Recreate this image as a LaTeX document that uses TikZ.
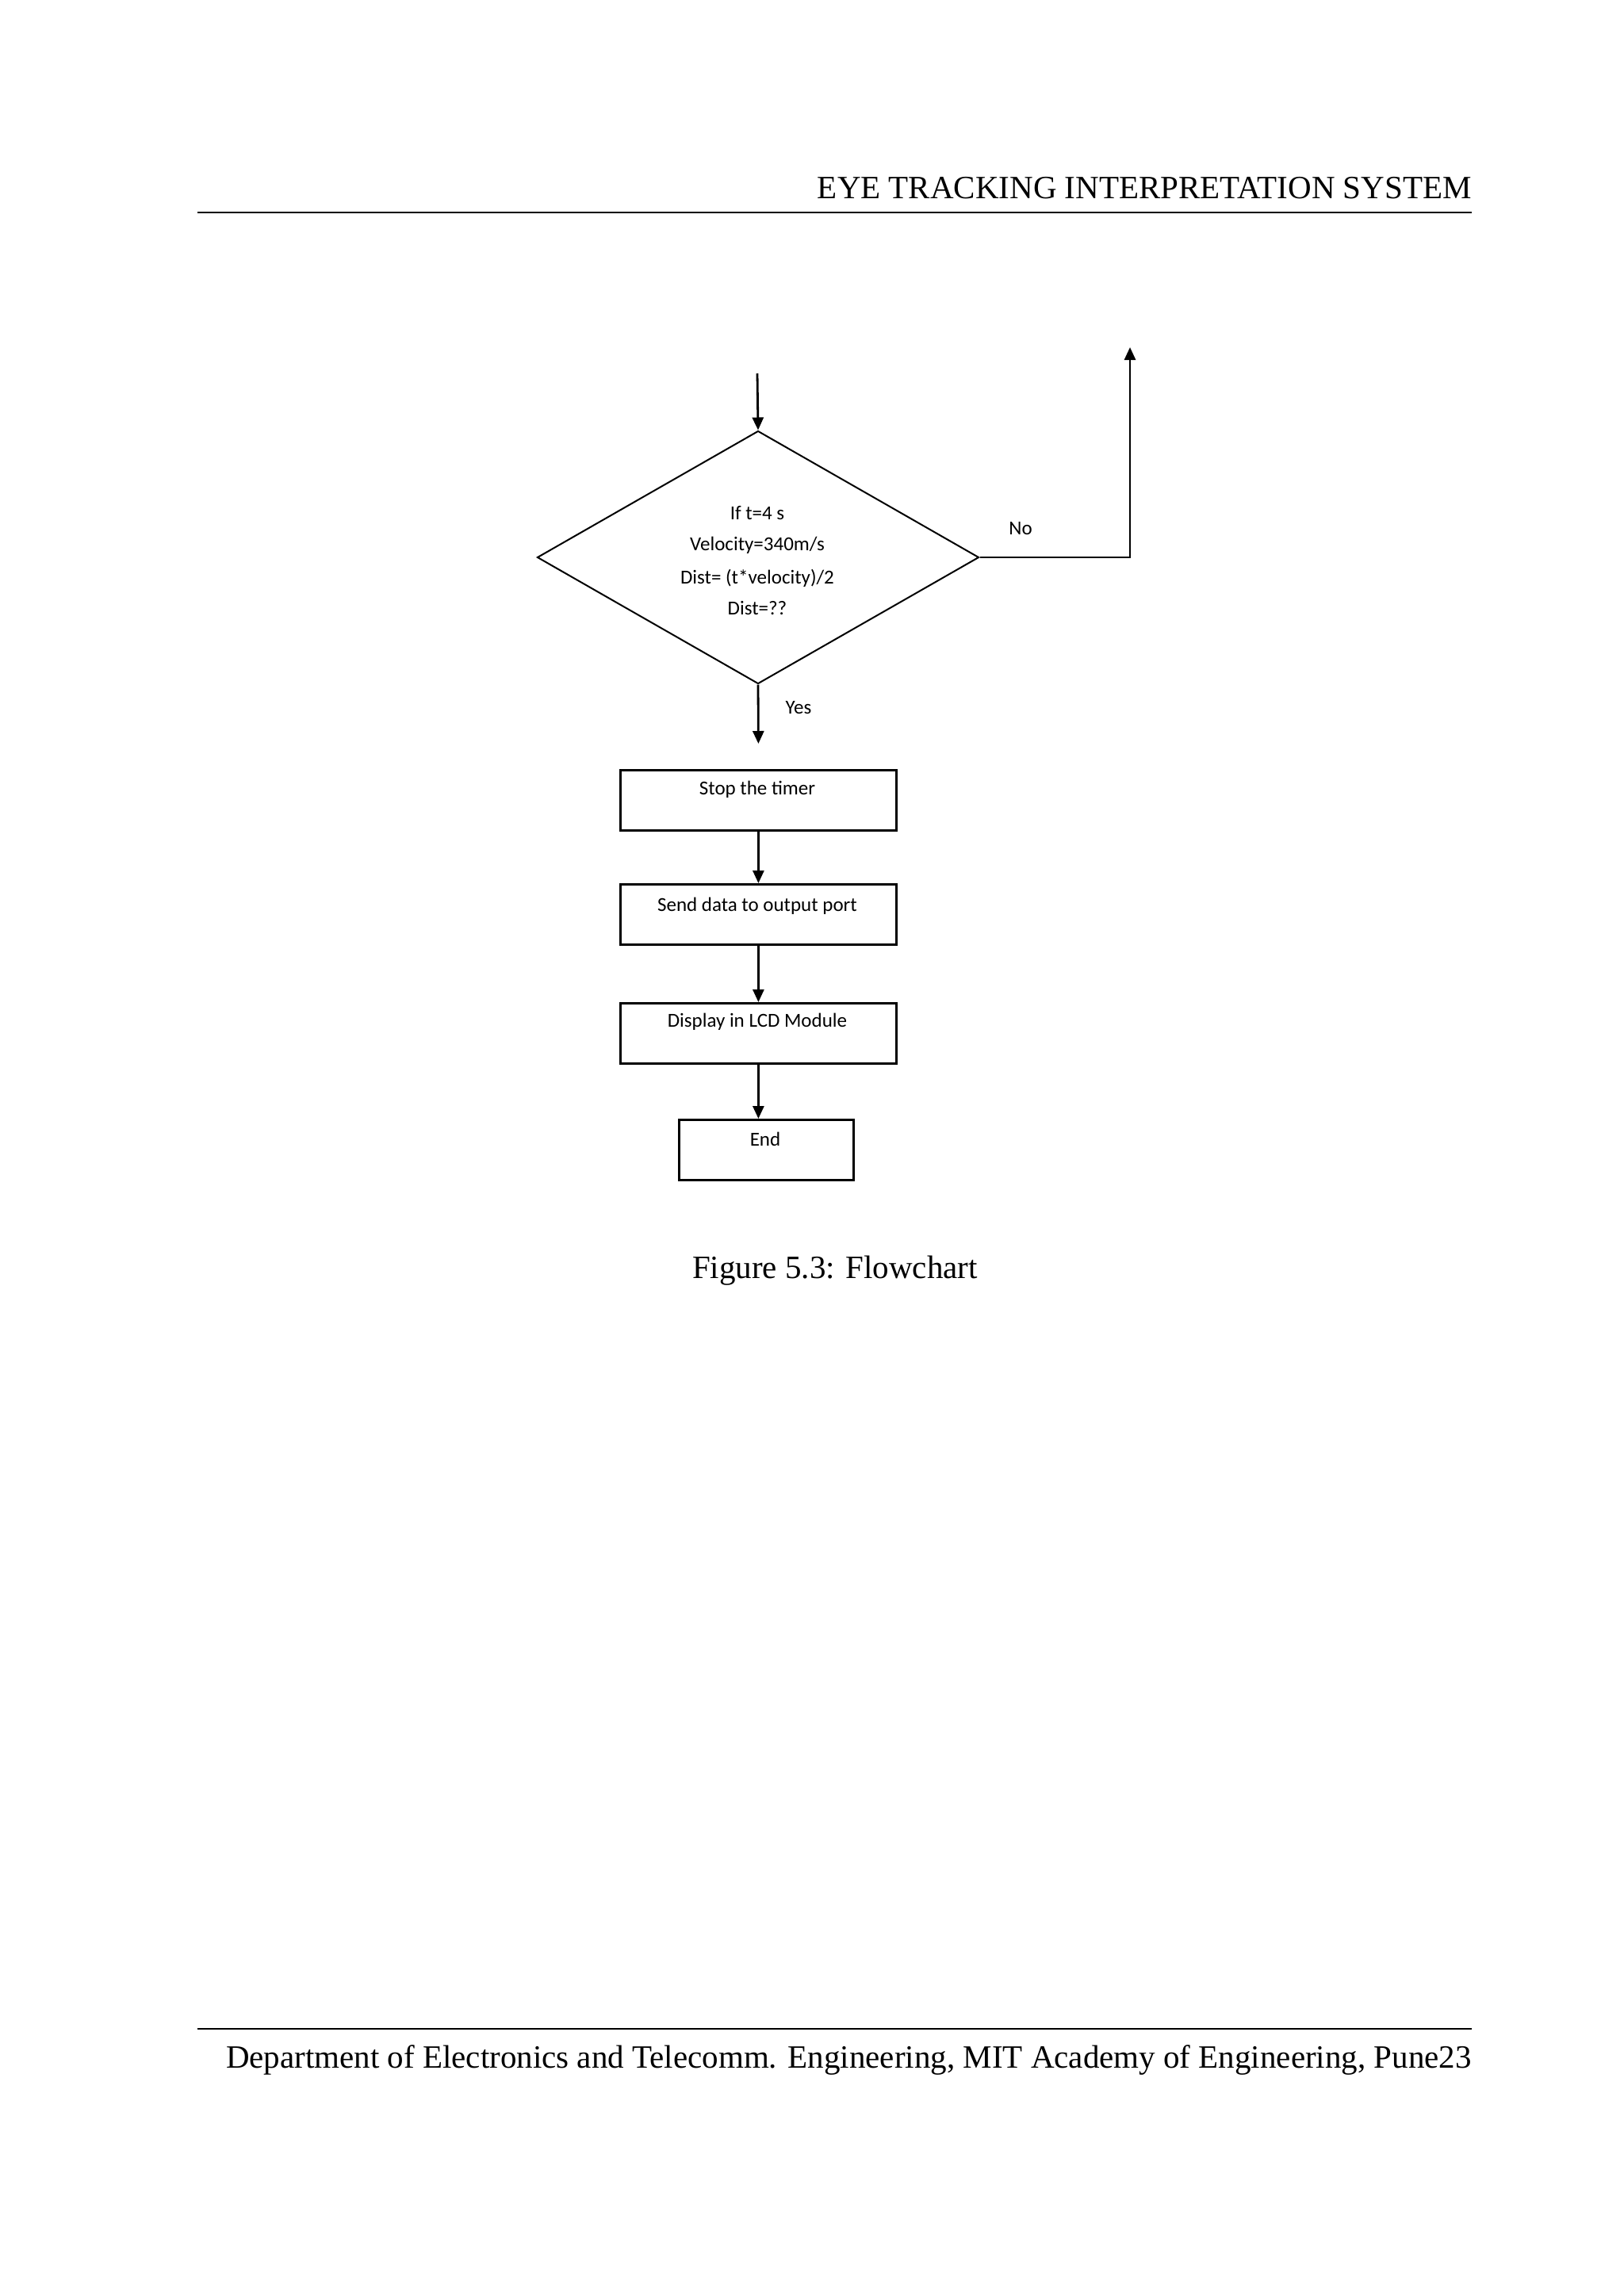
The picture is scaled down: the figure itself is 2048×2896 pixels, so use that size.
\documentclass[tikz,border=0pt]{standalone}
\usepackage{fontspec}
\setmainfont{Liberation Serif}
\newfontfamily\calfnt{Carlito}
\usetikzlibrary{shapes.geometric,arrows.meta}
\begin{document}
\begin{tikzpicture}[x=0.5pt,y=-0.5pt,
  box/.style={draw,line width=1.4pt,minimum width=348*0.5pt,minimum height=76*0.5pt,inner sep=0,anchor=north west},
  lbl/.style={font=\calfnt\fontsize{12.5}{14}\selectfont,inner sep=0},
  arr/.style={line width=1.4pt,-{Triangle[length=8pt,width=7pt]}}]
\useasboundingbox (0,0) rectangle (2048,2896);
\node[anchor=base east,font=\fontsize{20.5}{24}\selectfont,inner sep=0] (hdr) at (1856,250) {EYE TRACKING INTERPRETATION SYSTEM};
\draw[line width=1pt] (249,268) -- (1856,268);
\draw[line width=1pt] (249,2559) -- (1856,2559);
\node[anchor=base east,font=\fontsize{20.5}{24}\selectfont,inner sep=0] (ftr) at (1856,2608) {Department of Electronics and Telecomm. Engineering, MIT Academy of Engineering, Pune23};
\node[anchor=base,font=\fontsize{20.5}{24}\selectfont,inner sep=0] (cap) at (1053,1612) {Figure 5.3: Flowchart};

\coordinate (start) at (955,471);
\node[draw,diamond,line width=1pt,minimum width=557*0.5pt,minimum height=319*0.5pt,inner sep=0] (dec) at (956,703) {};
\node[lbl] at (955,647) {If t=4 s};
\node[lbl] at (955,688) {Velocity=340m/s};
\node[lbl] at (955,729) {Dist= (t*velocity)/2};
\node[lbl] at (955,767) {Dist=??};
\coordinate (up) at (1425,438);
\node[lbl] (no) at (1287,667) {No};
\node[lbl] (yes) at (1007,893) {Yes};

\node[box] (b1) at (781,970) {};
\node[lbl] at (955,996) {Stop the timer};
\node[box] (b2) at (781,1114) {};
\node[lbl] at (955,1143) {Send data to output port};
\node[box] (b3) at (781,1264) {};
\node[lbl] at (955,1289) {Display in LCD Module};
\node[box,minimum width=220*0.5pt] (b4) at (855,1411) {};
\node[lbl] at (965,1437) {End};

\draw[arr] (start) -- (dec.north);
\draw[arr] (dec.east) -| (up);
\draw[arr] (dec.south) -- ([yshift=16pt]b1.north);
\draw[arr] (b1.south) -- (b2.north);
\draw[arr] (b2.south) -- (b3.north);
\draw[arr] (b3.south) -- (b4.north -| b3.south);
\end{tikzpicture}
\end{document}
